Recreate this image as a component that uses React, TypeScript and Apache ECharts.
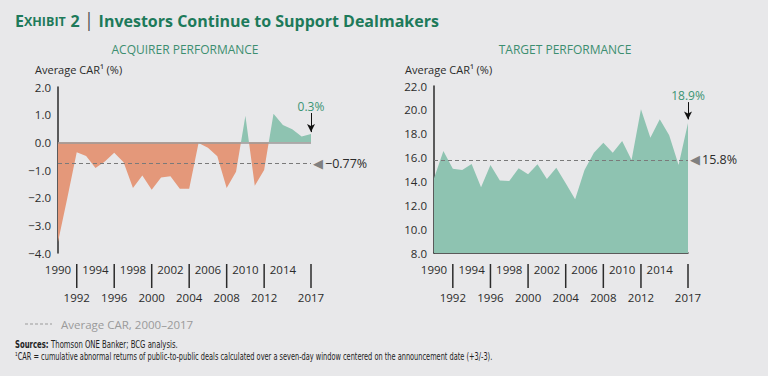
import React, { useEffect, useRef } from 'react';
import * as echarts from 'echarts';

const years = ['1990','1991','1992','1993','1994','1995','1996','1997','1998','1999','2000','2001','2002','2003','2004','2005','2006','2007','2008','2009','2010','2011','2012','2013','2014','2015','2016','2017'];
const acquirerCAR = [-3.6, -2.0, -0.36, -0.49, -0.93, -0.69, -0.38, -0.72, -1.65, -1.2, -1.71, -1.27, -1.23, -1.68, -1.68, -0.02, -0.2, -0.5, -1.65, -1.06, 0.96, -1.57, -1.0, 1.03, 0.63, 0.47, 0.21, 0.3];
const targetCAR = [14.27, 16.55, 15.07, 14.96, 15.46, 13.51, 15.38, 14.07, 14.04, 15.1, 14.6, 15.43, 14.2, 15.15, 13.85, 12.5, 14.96, 16.4, 17.24, 16.4, 17.38, 15.8, 20.05, 17.66, 19.22, 17.88, 15.38, 18.9];
const acquirerAvg = -0.77;
const targetAvg = 15.8;
const acquirerLatestLabel = '0.3%';
const targetLatestLabel = '18.9%';
const topRowYears = ['1990','1994','1998','2002','2006','2010','2014'];
const bottomRowYears = ['1992','1996','2000','2004','2008','2012','2017'];
const acquirerRange = [-4, 2, 1];
const targetRange = [8, 22, 2];

const GREEN = '#8EC3B1';
const ORANGE = '#E4987A';
const DARK = '#2b2b2b';
const TITLE_GREEN = '#1D7A5A';
const FONT = '"Open Sans", "Noto Sans", sans-serif';
const NARROW = '"Liberation Sans Narrow", "DejaVu Sans Condensed", sans-serif';

const fmtNum = (v: number) => (v < 0 ? '\u2212' : '') + Math.abs(v).toFixed(1);

function xAxes(gridIndex: number, showLine: boolean) {
  return [
    {
      type: 'category', gridIndex, data: years, boundaryGap: false, position: 'bottom',
      axisLine: { show: showLine, onZero: false, lineStyle: { color: DARK, width: 1.5 } },
      axisTick: { show: false },
      axisLabel: {
        interval: (_i: number, v: string) => topRowYears.includes(v),
        margin: 10, color: DARK, fontSize: 11.5, fontFamily: FONT,
      },
      splitLine: { show: false },
    },
    {
      type: 'category', gridIndex, data: years, boundaryGap: false, position: 'bottom', offset: 11,
      axisLine: { show: false, onZero: false },
      axisTick: { show: false },
      axisLabel: {
        interval: (_i: number, v: string) => bottomRowYears.includes(v),
        margin: 27, color: DARK, fontSize: 11.5, fontFamily: FONT,
      },
      splitLine: { show: false },
    },
  ];
}

function yAxis(gridIndex: number, range: number[]) {
  return {
    type: 'value', gridIndex, min: range[0], max: range[1], interval: range[2],
    axisLine: { show: true, lineStyle: { color: DARK, width: 1.5 } },
    axisTick: { show: false },
    splitLine: { show: false },
    axisLabel: { formatter: fmtNum, color: DARK, fontSize: 11.5, fontFamily: FONT, margin: 7 },
  };
}

function avgLine(value: number) {
  return {
    yAxis: value,
    symbol: 'none',
    lineStyle: { type: [4, 3], color: '#7a7a7a', width: 1 },
    label: {
      show: true, position: 'end', distance: 2,
      formatter: '{a|\u25C0}{b|' + (value < 0 ? '\u2212' : '') + Math.abs(value).toFixed(value < 0 ? 2 : 1) + '%}',
      rich: {
        a: { color: '#808080', fontSize: 13, fontFamily: 'DejaVu Sans', padding: [0, 2, 0, 0] },
        b: { color: DARK, fontSize: 12.5, fontFamily: FONT },
      },
    },
  };
}

function arrowNote(top: number, bottom: number, text: string) {
  return [
    {
      coord: ['2017', top], symbol: 'none',
      lineStyle: { type: 'solid', color: '#111', width: 1 },
      label: { show: true, position: 'start', distance: 1, formatter: text, color: '#3C9474', fontSize: 12, fontFamily: FONT },
    },
    { coord: ['2017', bottom], symbol: 'arrow', symbolSize: [6, 8] },
  ];
}

const titleText = (text: string, left: number, top: number, extra: any) => ({
  text, left, top, padding: 0, ...extra,
});

export default function App() {
  const ref = useRef<HTMLDivElement>(null);
  useEffect(() => {
    if (!ref.current) return;
    const chart = echarts.init(ref.current, undefined, { renderer: 'svg' });
    const lastA = acquirerCAR[acquirerCAR.length - 1];
    const lastT = targetCAR[targetCAR.length - 1];
    const baseGraphics: any[] = [
      { type: 'line', shape: { x1: 25, y1: 324, x2: 52, y2: 324 }, style: { stroke: '#9a9a9a', lineWidth: 1, lineDash: [3, 2] } },
      { type: 'text', x: 61, y: 324, style: { text: 'Average CAR, 2000\u20132017', fill: '#9a9a9a', fontSize: 11.5, fontFamily: FONT, verticalAlign: 'middle' } },
      {
        type: 'text', x: 15, y: 344, scaleX: 0.73,
        style: {
          text: '{b|Sources:} {n|Thomson ONE Banker; BCG analysis.}', verticalAlign: 'middle',
          rich: {
            b: { fontWeight: 'bold', fontSize: 10.5, fill: '#222', fontFamily: NARROW },
            n: { fontSize: 10.5, fill: '#222', fontFamily: NARROW },
          },
        },
      },
      {
        type: 'text', x: 15, y: 357, scaleX: 0.7,
        style: {
          text: '\u00B9CAR = cumulative abnormal returns of public-to-public deals calculated over a seven-day window centered on the announcement date (+3/-3).',
          verticalAlign: 'middle', fontSize: 10.5, fill: '#222', fontFamily: NARROW,
        },
      },
    ];
    chart.setOption({
      animation: false,
      backgroundColor: '#E8E8EA',
      textStyle: { fontFamily: FONT },
      title: [
        titleText('{e|E}{x|XHIBIT} {e|2} {bar|\u2502} {t|Investors Continue to Support Dealmakers}', 15, 12, {
          textStyle: {
            rich: {
              e: { fontSize: 16, fontWeight: 'bold', color: TITLE_GREEN, fontFamily: FONT },
              x: { fontSize: 12.5, fontWeight: 'bold', color: TITLE_GREEN, fontFamily: FONT },
              bar: { fontSize: 16, color: '#555', fontFamily: 'DejaVu Sans' },
              t: { fontSize: 16, fontWeight: 'bold', color: TITLE_GREEN, fontFamily: FONT },
            },
          },
        }),
        titleText('ACQUIRER PERFORMANCE', 185, 43, { textAlign: 'center', textStyle: { fontSize: 12, fontWeight: 'normal', color: '#3C8E70', fontFamily: FONT } }),
        titleText('TARGET PERFORMANCE', 565, 43, { textAlign: 'center', textStyle: { fontSize: 12, fontWeight: 'normal', color: '#3C8E70', fontFamily: FONT } }),
        titleText('Average CAR\u00B9 (%)', 35, 64, { textStyle: { fontSize: 11, fontWeight: 'normal', color: DARK, fontFamily: FONT } }),
        titleText('Average CAR\u00B9 (%)', 405, 64, { textStyle: { fontSize: 11, fontWeight: 'normal', color: DARK, fontFamily: FONT } }),
      ],
      grid: [
        { left: 58, top: 87, width: 253, height: 166 },
        { left: 434, top: 86, width: 254, height: 167 },
      ],
      xAxis: [...xAxes(0, false), ...xAxes(1, true)],
      yAxis: [yAxis(0, acquirerRange), yAxis(1, targetRange)],
      visualMap: [{
        type: 'piecewise', show: false, seriesIndex: 0, dimension: 1,
        pieces: [{ gte: -10, lt: 0, color: ORANGE }, { gte: 0, lte: 10, color: GREEN }],
      }],
      series: [
        {
          type: 'line', xAxisIndex: 0, yAxisIndex: 0, data: acquirerCAR,
          symbol: 'none', lineStyle: { width: 0 }, areaStyle: { opacity: 1 },
          markLine: {
            silent: true, symbol: 'none',
            data: [
              { yAxis: 0, symbol: 'none', lineStyle: { type: 'solid', color: '#9a9a9a', width: 1.5 }, label: { show: false } },
              avgLine(acquirerAvg),
              arrowNote(lastA + 0.76, lastA + 0.07, acquirerLatestLabel),
            ],
          },
        },
        {
          type: 'line', xAxisIndex: 2, yAxisIndex: 1, data: targetCAR,
          symbol: 'none', lineStyle: { width: 0 }, areaStyle: { opacity: 1, color: GREEN }, itemStyle: { color: GREEN },
          markLine: {
            silent: true, symbol: 'none',
            data: [
              avgLine(targetAvg),
              arrowNote(lastT + 1.75, lastT + 0.3, targetLatestLabel),
            ],
          },
        },
      ],
      graphic: baseGraphics,
    });

    // Tick marks of the lower year row, placed through the library's own axis scales (category index).
    const ticks: any[] = [];
    const panels = [
      { xAxisIndex: 1, yAxisIndex: 0, yMin: acquirerRange[0] },
      { xAxisIndex: 3, yAxisIndex: 1, yMin: targetRange[0] },
    ];
    panels.forEach((p) => {
      const yPix = Number(chart.convertToPixel({ yAxisIndex: p.yAxisIndex } as any, p.yMin));
      bottomRowYears.forEach((yr) => {
        const xPix = Number(chart.convertToPixel({ xAxisIndex: p.xAxisIndex } as any, years.indexOf(yr)));
        if (isFinite(xPix) && isFinite(yPix) && xPix >= 0 && xPix <= 768) {
          ticks.push({
            type: 'line', silent: true,
            shape: { x1: xPix, y1: yPix + 11, x2: xPix, y2: yPix + 35 },
            style: { stroke: DARK, lineWidth: 1.5 },
          });
        }
      });
    });
    chart.setOption({ graphic: [...baseGraphics, ...ticks] });
    return () => chart.dispose();
  }, []);
  return <div ref={ref} style={{ position: 'fixed', left: 0, top: 0, width: 768, height: 376 }} />;
}
